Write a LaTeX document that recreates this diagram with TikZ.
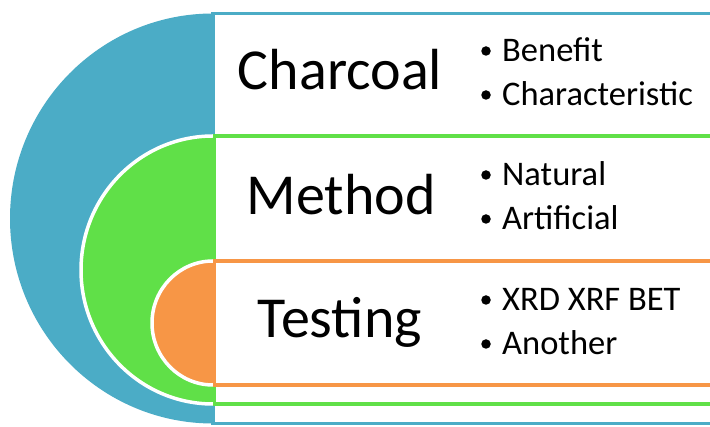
\documentclass[tikz,border=0pt]{standalone}
\usepackage{fontspec}
\setmainfont{Carlito}
\definecolor{cblue}{HTML}{4BACC6}
\definecolor{cgreen}{HTML}{60E048}
\definecolor{corange}{HTML}{F79646}
\tikzset{
  frame/.style={line width=3.2pt},
  ring/.style={draw=white, line width=3.5pt},
  title/.style={anchor=base, inner sep=0pt, font=\fontsize{58}{60}\selectfont},
  item/.style={anchor=base west, inner sep=0pt, font=\fontsize{34.5}{36}\selectfont},
  dot/.style={circle, fill=black, inner sep=0pt, minimum size=9.5pt},
}
\begin{document}
\begin{tikzpicture}[x=1pt,y=-1pt]
\clip (0,0) rectangle (710,427);
\fill[white] (0,0) rectangle (710,427);
% blue level
\fill[cblue] (213,13.5) arc[start angle=270, end angle=90, x radius=203, y radius=205] -- cycle;
\fill[white] (213,13.5) rectangle (720,423.5);
\draw[cblue, frame] (720,13.5) -- (213,13.5) -- (213,423.5) -- (720,423.5);
% green level
\filldraw[fill=cgreen, ring] (213,136) arc[start angle=270, end angle=90, x radius=132, y radius=134];
\fill[white] (214.5,136) rectangle (720,404);
\draw[cgreen, frame] (720,136) -- (214.5,136) -- (214.5,404) -- (720,404);
% orange level
\filldraw[fill=corange, ring] (213,261) arc[start angle=270, end angle=90, x radius=61, y radius=62];
\fill[white] (214.5,261) rectangle (720,385);
\draw[corange, frame] (720,261) -- (214.5,261) -- (214.5,385) -- (720,385);
% titles
\node[title] (charcoal) at (340,90) {Charcoal};
\node[title] (method) at (341,215) {Method};
\node[title] (testing) at (340,338) {Testing};
% items
\node[dot] (d1) at (486,51) {};
\node[item] (benefit) at (502,62) {Benefit};
\node[dot] (d2) at (486,95) {};
\node[item] (charact) at (502,106) {Characteristic};
\node[dot] (d3) at (486,175) {};
\node[item] (natural) at (502,186) {Natural};
\node[dot] (d4) at (486,219) {};
\node[item] (artif) at (502,230) {Artificial};
\node[dot] (d5) at (486,300) {};
\node[item] (xrd) at (502,311) {XRD XRF BET};
\node[dot] (d6) at (486,344) {};
\node[item] (another) at (502,355) {Another};
\end{tikzpicture}
\end{document}
